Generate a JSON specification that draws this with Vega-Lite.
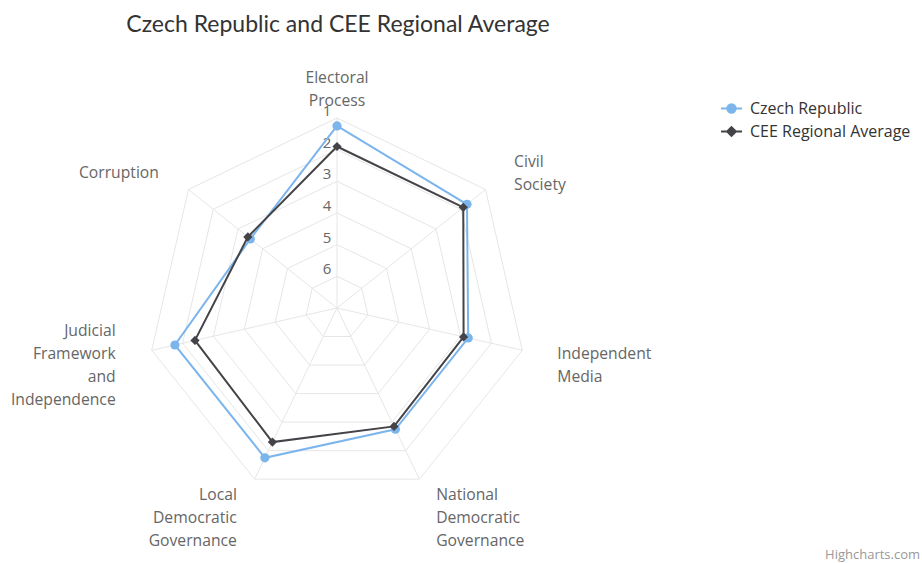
{
  "$schema": "https://vega.github.io/schema/vega-lite/v6.json",
  "autosize": {"type": "none"},
  "width": 674,
  "height": 496,
  "padding": {"left": 0, "top": 60, "right": 248, "bottom": 7},
  "background": "#ffffff",
  "config": {"view": {"stroke": null}, "font": "Open Sans"},
  "title": {
    "text": "Czech Republic and CEE Regional Average",
    "anchor": "middle",
    "fontSize": 23,
    "fontWeight": "normal",
    "color": "#333333",
    "font": "Lato",
    "baseline": "alphabetic",
    "offset": 5,
    "dx": 1
  },
  "datasets": {
    "series": [
      {"category": "Electoral Process", "idx": 0, "series": "Czech Republic", "value": 1.25},
      {"category": "Civil Society", "idx": 1, "series": "Czech Republic", "value": 1.75},
      {"category": "Independent Media", "idx": 2, "series": "Czech Republic", "value": 2.75},
      {"category": "National Democratic Governance", "idx": 3, "series": "Czech Republic", "value": 2.75},
      {"category": "Local Democratic Governance", "idx": 4, "series": "Czech Republic", "value": 1.75},
      {"category": "Judicial Framework and Independence", "idx": 5, "series": "Czech Republic", "value": 1.75},
      {"category": "Corruption", "idx": 6, "series": "Czech Republic", "value": 3.5},
      {"category": "Electoral Process", "idx": 0, "series": "CEE Regional Average", "value": 1.9},
      {"category": "Civil Society", "idx": 1, "series": "CEE Regional Average", "value": 1.9},
      {"category": "Independent Media", "idx": 2, "series": "CEE Regional Average", "value": 2.9},
      {"category": "National Democratic Governance", "idx": 3, "series": "CEE Regional Average", "value": 2.85},
      {"category": "Local Democratic Governance", "idx": 4, "series": "CEE Regional Average", "value": 2.3},
      {"category": "Judicial Framework and Independence", "idx": 5, "series": "CEE Regional Average", "value": 2.4},
      {"category": "Corruption", "idx": 6, "series": "CEE Regional Average", "value": 3.4}
    ],
    "cats": [
      {"category": "Electoral Process", "idx": 0},
      {"category": "Civil Society", "idx": 1},
      {"category": "Independent Media", "idx": 2},
      {"category": "National Democratic Governance", "idx": 3},
      {"category": "Local Democratic Governance", "idx": 4},
      {"category": "Judicial Framework and Independence", "idx": 5},
      {"category": "Corruption", "idx": 6}
    ],
    "levels": [
      {"level": 1, "idx": [0, 1, 2, 3, 4, 5, 6]},
      {"level": 2, "idx": [0, 1, 2, 3, 4, 5, 6]},
      {"level": 3, "idx": [0, 1, 2, 3, 4, 5, 6]},
      {"level": 4, "idx": [0, 1, 2, 3, 4, 5, 6]},
      {"level": 5, "idx": [0, 1, 2, 3, 4, 5, 6]},
      {"level": 6, "idx": [0, 1, 2, 3, 4, 5, 6]}
    ],
    "credit": [{"text": "Highcharts.com"}]
  },
  "layer": [
    {
      "data": {"name": "levels"},
      "transform": [
        {"flatten": ["idx"]},
        {"calculate": "datum.idx * 2 * PI / 7", "as": "a"},
        {"calculate": "(7 - datum.level) * sin(datum.a)", "as": "gx"},
        {"calculate": "(7 - datum.level) * cos(datum.a)", "as": "gy"}
      ],
      "mark": {"type": "line", "interpolate": "linear-closed", "stroke": "#e6e6e6", "strokeWidth": 1},
      "encoding": {
        "x": {"field": "gx", "type": "quantitative", "scale": {"domain": [-10.641, 10.641], "nice": false, "zero": false}, "axis": null},
        "y": {"field": "gy", "type": "quantitative", "scale": {"domain": [-7.831, 7.831], "nice": false, "zero": false}, "axis": null},
        "detail": {"field": "level", "type": "nominal"},
        "order": {"field": "idx", "type": "quantitative"}
      }
    },
    {
      "data": {"name": "cats"},
      "transform": [
        {"calculate": "datum.idx * 2 * PI / 7", "as": "a"},
        {"calculate": "6 * sin(datum.a)", "as": "sx"},
        {"calculate": "6 * cos(datum.a)", "as": "sy"}
      ],
      "mark": {"type": "rule", "stroke": "#e6e6e6", "strokeWidth": 1},
      "encoding": {
        "x": {"field": "sx", "type": "quantitative", "scale": {"domain": [-10.641, 10.641], "nice": false, "zero": false}, "axis": null},
        "y": {"field": "sy", "type": "quantitative", "scale": {"domain": [-7.831, 7.831], "nice": false, "zero": false}, "axis": null},
        "x2": {"datum": 0},
        "y2": {"datum": 0}
      }
    },
    {
      "data": {"name": "levels"},
      "transform": [{"calculate": "7 - datum.level", "as": "r"}],
      "mark": {"type": "text", "align": "center", "baseline": "middle", "dx": -10, "dy": -7, "fontSize": 15, "color": "#666666", "font": "Open Sans"},
      "encoding": {
        "x": {"datum": 0, "type": "quantitative", "scale": {"domain": [-10.641, 10.641], "nice": false, "zero": false}, "axis": null},
        "y": {"field": "r", "type": "quantitative", "scale": {"domain": [-7.831, 7.831], "nice": false, "zero": false}, "axis": null},
        "text": {"field": "level", "type": "quantitative"}
      }
    },
    {
      "data": {"name": "series"},
      "transform": [
        {"filter": "datum.series === 'Czech Republic'"},
        {"calculate": "datum.idx * 2 * PI / 7", "as": "a"},
        {"calculate": "(7 - datum.value) * sin(datum.a)", "as": "px"},
        {"calculate": "(7 - datum.value) * cos(datum.a)", "as": "py"}
      ],
      "mark": {"type": "line", "interpolate": "linear-closed", "strokeWidth": 2},
      "encoding": {
        "x": {"field": "px", "type": "quantitative", "scale": {"domain": [-10.641, 10.641], "nice": false, "zero": false}, "axis": null},
        "y": {"field": "py", "type": "quantitative", "scale": {"domain": [-7.831, 7.831], "nice": false, "zero": false}, "axis": null},
        "order": {"field": "idx", "type": "quantitative"},
        "color": {
          "field": "series", "type": "nominal",
          "scale": {"domain": ["Czech Republic", "CEE Regional Average"], "range": ["#7cb5ec", "#434348"]},
          "legend": {
            "title": null,
            "orient": "none",
            "legendX": 720,
            "legendY": 37,
            "padding": 0,
            "symbolSize": 441,
            "symbolStrokeWidth": 2,
            "labelFontSize": 16,
            "labelColor": "#333333",
            "labelFont": "Open Sans",
            "labelOffset": 7,
            "labelLimit": 300,
            "rowPadding": 3,
            "encode": {
              "symbols": {
                "update": {
                  "shape": {"signal": "datum.value === 'Czech Republic' ? 'M-1,0H1M-0.4,0A0.4,0.4 0 1,0 0.4,0A0.4,0.4 0 1,0 -0.4,0Z' : 'M-1,0H1M0,-0.42L0.42,0L0,0.42L-0.42,0Z'"},
                  "fill": {"scale": "color", "field": "value"},
                  "stroke": {"scale": "color", "field": "value"},
                  "strokeWidth": {"value": 2},
                  "opacity": {"value": 1}
                }
              }
            }
          }
        }
      }
    },
    {
      "data": {"name": "series"},
      "transform": [
        {"filter": "datum.series === 'Czech Republic'"},
        {"calculate": "datum.idx * 2 * PI / 7", "as": "a"},
        {"calculate": "(7 - datum.value) * sin(datum.a)", "as": "px"},
        {"calculate": "(7 - datum.value) * cos(datum.a)", "as": "py"}
      ],
      "mark": {"type": "point", "filled": true, "opacity": 1, "size": 85, "shape": "circle"},
      "encoding": {
        "x": {"field": "px", "type": "quantitative", "scale": {"domain": [-10.641, 10.641], "nice": false, "zero": false}, "axis": null},
        "y": {"field": "py", "type": "quantitative", "scale": {"domain": [-7.831, 7.831], "nice": false, "zero": false}, "axis": null},
        "color": {"field": "series", "type": "nominal"}
      }
    },
    {
      "data": {"name": "series"},
      "transform": [
        {"filter": "datum.series === 'CEE Regional Average'"},
        {"calculate": "datum.idx * 2 * PI / 7", "as": "a"},
        {"calculate": "(7 - datum.value) * sin(datum.a)", "as": "px"},
        {"calculate": "(7 - datum.value) * cos(datum.a)", "as": "py"}
      ],
      "mark": {"type": "line", "interpolate": "linear-closed", "strokeWidth": 2},
      "encoding": {
        "x": {"field": "px", "type": "quantitative", "scale": {"domain": [-10.641, 10.641], "nice": false, "zero": false}, "axis": null},
        "y": {"field": "py", "type": "quantitative", "scale": {"domain": [-7.831, 7.831], "nice": false, "zero": false}, "axis": null},
        "order": {"field": "idx", "type": "quantitative"},
        "color": {"field": "series", "type": "nominal"}
      }
    },
    {
      "data": {"name": "series"},
      "transform": [
        {"filter": "datum.series === 'CEE Regional Average'"},
        {"calculate": "datum.idx * 2 * PI / 7", "as": "a"},
        {"calculate": "(7 - datum.value) * sin(datum.a)", "as": "px"},
        {"calculate": "(7 - datum.value) * cos(datum.a)", "as": "py"}
      ],
      "mark": {"type": "point", "filled": true, "opacity": 1, "size": 85, "shape": "diamond"},
      "encoding": {
        "x": {"field": "px", "type": "quantitative", "scale": {"domain": [-10.641, 10.641], "nice": false, "zero": false}, "axis": null},
        "y": {"field": "py", "type": "quantitative", "scale": {"domain": [-7.831, 7.831], "nice": false, "zero": false}, "axis": null},
        "color": {"field": "series", "type": "nominal"}
      }
    },
    {
      "data": {"name": "cats"},
      "transform": [
        {"filter": "datum.idx === 0"},
        {"calculate": "datum.idx * 2 * PI / 7", "as": "a"},
        {"calculate": "length(split(datum.category, ' '))", "as": "n"},
        {"calculate": "7.07 * sin(datum.a)", "as": "lx"},
        {"calculate": "7.07 * cos(datum.a) + (datum.n - 1) * 11.5 / 31.67 - (cos(datum.a) < 0 ? 3 / 31.67 : 0)", "as": "ly"}
      ],
      "mark": {"type": "text", "align": "center", "baseline": "middle", "dy": 5, "lineBreak": " ", "lineHeight": 23, "fontSize": 15.7, "color": "#666666", "font": "Open Sans"},
      "encoding": {
        "x": {"field": "lx", "type": "quantitative", "scale": {"domain": [-10.641, 10.641], "nice": false, "zero": false}, "axis": null},
        "y": {"field": "ly", "type": "quantitative", "scale": {"domain": [-7.831, 7.831], "nice": false, "zero": false}, "axis": null},
        "text": {"field": "category", "type": "nominal"}
      }
    },
    {
      "data": {"name": "cats"},
      "transform": [
        {"filter": "datum.idx >= 1 && datum.idx <= 3"},
        {"calculate": "datum.idx * 2 * PI / 7", "as": "a"},
        {"calculate": "length(split(datum.category, ' '))", "as": "n"},
        {"calculate": "7.07 * sin(datum.a)", "as": "lx"},
        {"calculate": "7.07 * cos(datum.a) + (datum.n - 1) * 11.5 / 31.67 - (cos(datum.a) < 0 ? 3 / 31.67 : 0)", "as": "ly"}
      ],
      "mark": {"type": "text", "align": "left", "baseline": "middle", "dx": 2, "dy": 5, "lineBreak": " ", "lineHeight": 23, "fontSize": 15.7, "color": "#666666", "font": "Open Sans"},
      "encoding": {
        "x": {"field": "lx", "type": "quantitative", "scale": {"domain": [-10.641, 10.641], "nice": false, "zero": false}, "axis": null},
        "y": {"field": "ly", "type": "quantitative", "scale": {"domain": [-7.831, 7.831], "nice": false, "zero": false}, "axis": null},
        "text": {"field": "category", "type": "nominal"}
      }
    },
    {
      "data": {"name": "cats"},
      "transform": [
        {"filter": "datum.idx >= 4"},
        {"calculate": "datum.idx * 2 * PI / 7", "as": "a"},
        {"calculate": "length(split(datum.category, ' '))", "as": "n"},
        {"calculate": "7.07 * sin(datum.a)", "as": "lx"},
        {"calculate": "7.07 * cos(datum.a) + (datum.n - 1) * 11.5 / 31.67 - (cos(datum.a) < 0 ? 3 / 31.67 : 0)", "as": "ly"}
      ],
      "mark": {"type": "text", "align": "right", "baseline": "middle", "dx": -3, "dy": 5, "lineBreak": " ", "lineHeight": 23, "fontSize": 15.7, "color": "#666666", "font": "Open Sans"},
      "encoding": {
        "x": {"field": "lx", "type": "quantitative", "scale": {"domain": [-10.641, 10.641], "nice": false, "zero": false}, "axis": null},
        "y": {"field": "ly", "type": "quantitative", "scale": {"domain": [-7.831, 7.831], "nice": false, "zero": false}, "axis": null},
        "text": {"field": "category", "type": "nominal"}
      }
    },
    {
      "data": {"name": "credit"},
      "mark": {"type": "text", "align": "right", "baseline": "middle", "fontSize": 13, "color": "#999999", "font": "Open Sans"},
      "encoding": {
        "x": {"datum": 18.41, "type": "quantitative", "scale": {"domain": [-10.641, 10.641], "nice": false, "zero": false}, "axis": null},
        "y": {"datum": -7.8, "type": "quantitative", "scale": {"domain": [-7.831, 7.831], "nice": false, "zero": false}, "axis": null},
        "text": {"field": "text", "type": "nominal"}
      }
    }
  ]
}
